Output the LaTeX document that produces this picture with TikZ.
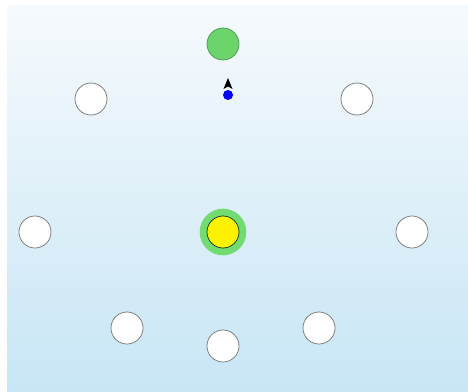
\documentclass[tikz,border=0pt]{standalone}
\usepackage{tikz}
\usetikzlibrary{positioning}
\definecolor{skytop}{HTML}{F6FAFD}
\definecolor{skybot}{HTML}{C8E6F5}
\definecolor{ballgreen}{HTML}{6BD46B}
\definecolor{ringgreen}{HTML}{72DC72}

\begin{document}
\begin{tikzpicture}[x=0.03cm, y=-0.03cm,
    ball/.style={draw=black!55, circle, fill=white, minimum size=0.96cm, inner sep=0pt, line width=0.6pt}]
    % canvas
    \useasboundingbox (0,0) rectangle (468,392);
    \fill[white] (0,0) rectangle (468,392);
    \shade[top color=skytop, bottom color=skybot] (7,5) rectangle (468,391);

    % outer ring of balls
    \node (nw) at (91, 99) [ball] {};
    \node (ne) at (357, 99) [ball] {};
    \node (w) at (35, 232) [ball] {};
    \node (e) at (412, 232) [ball] {};
    \node (sw) at (127, 328) [ball] {};
    \node (s) at (223, 346) [ball] {};
    \node (se) at (319, 328) [ball] {};

    % target ball
    \node (top) at (223, 44) [ball, fill=ballgreen, draw=green!40!black!70] {};

    % centre ball with halo
    \node (halo) at (223, 232) [circle, fill=ringgreen, minimum size=1.4cm, inner sep=0pt] {};
    \node (mid) at (halo.center) [ball, fill=yellow, draw=black!80!green] {};

    % player and heading
    \node (dot) at (228, 95) [circle, fill=blue, minimum size=0.3cm, inner sep=0pt] {};
    \fill[black] (228, 78) -- (232.5, 89) -- (228, 86.5) -- (223.5, 89) -- cycle;
\end{tikzpicture}
\end{document}
